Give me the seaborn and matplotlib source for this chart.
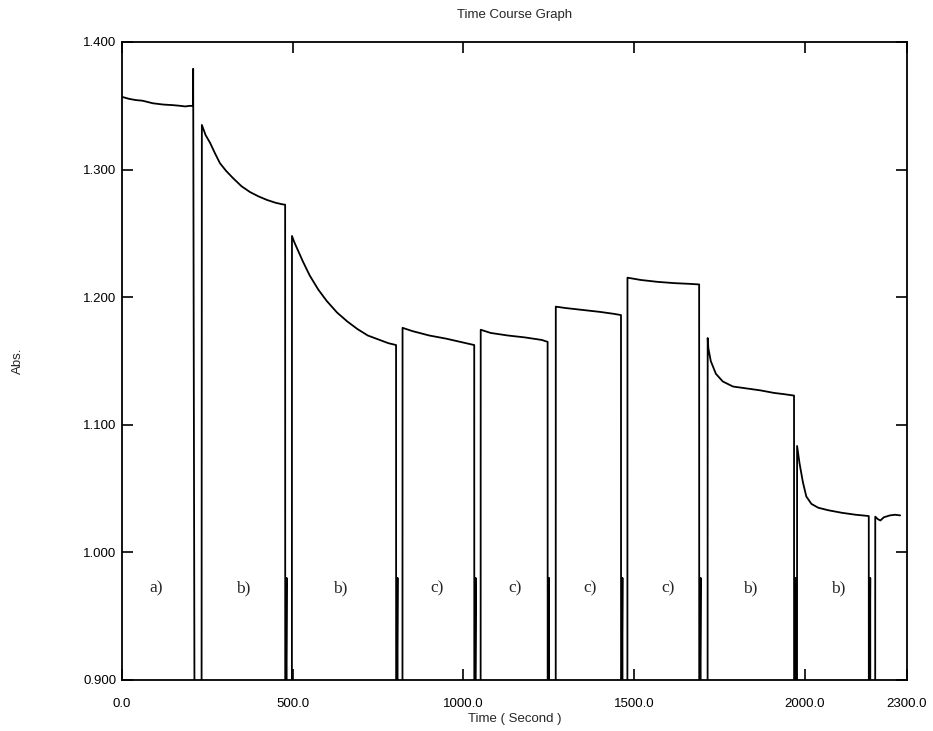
import numpy as np
import pandas as pd
import matplotlib
matplotlib.use("Agg")
import matplotlib.pyplot as plt
import seaborn as sns

# time course readings (s, Abs.), 0.80 = off-scale low while cuvette swapped
seg_a_t = [0, 20, 40, 60, 90, 120, 150, 170, 185, 200, 208]
seg_a_v = [1.357, 1.3555, 1.3545, 1.354, 1.352, 1.351, 1.3505, 1.350, 1.3495, 1.350, 1.3498]

seg_b1_t = [234, 245, 258, 272, 287, 305, 325, 350, 375, 400, 425, 450, 470, 478]
seg_b1_v = [1.335, 1.327, 1.321, 1.313, 1.305, 1.299, 1.2934, 1.287, 1.2824, 1.279, 1.2762, 1.274, 1.2728, 1.2725]

seg_b2_t = [498, 505, 515, 530, 550, 575, 600, 630, 660, 690, 720, 750, 780, 803]
seg_b2_v = [1.248, 1.243, 1.237, 1.228, 1.217, 1.206, 1.197, 1.188, 1.181, 1.175, 1.170, 1.167, 1.164, 1.1625]

seg_c1_t = [822, 850, 900, 950, 1000, 1032]
seg_c1_v = [1.176, 1.1735, 1.170, 1.1675, 1.1645, 1.1625]

seg_c2_t = [1051, 1080, 1130, 1180, 1230, 1247]
seg_c2_v = [1.1745, 1.172, 1.170, 1.1685, 1.1665, 1.165]

seg_c3_t = [1271, 1300, 1350, 1400, 1440, 1462]
seg_c3_v = [1.1926, 1.1915, 1.190, 1.1885, 1.187, 1.186]

seg_c4_t = [1481, 1520, 1570, 1620, 1660, 1691]
seg_c4_v = [1.2153, 1.2135, 1.212, 1.211, 1.2105, 1.210]

seg_b3_t = [1716, 1718, 1725, 1740, 1760, 1790, 1830, 1870, 1910, 1940, 1969]
seg_b3_v = [1.168, 1.160, 1.150, 1.140, 1.134, 1.130, 1.1285, 1.127, 1.125, 1.124, 1.1229]

seg_b4_t = [1978, 1985, 1995, 2005, 2020, 2040, 2070, 2110, 2150, 2188]
seg_b4_v = [1.0834, 1.070, 1.055, 1.0438, 1.038, 1.035, 1.033, 1.031, 1.0295, 1.0285]

seg_end_t = [2207, 2215, 2222, 2232, 2250, 2265, 2280]
seg_end_v = [1.028, 1.026, 1.025, 1.0275, 1.029, 1.0295, 1.029]

# gaps between segments: (t, value) points for the cuvette changes
gap1_t = [208.5, 213, 233]
gap1_v = [1.379, 0.80, 0.80]
gap_low = 0.80
gap_mid = 0.98

labels = ["a)", "b)", "b)", "c)", "c)", "c)", "c)", "b)", "b)"]
label_t = [100, 354, 639, 923, 1151, 1371, 1600, 1840, 2098]
label_y = 0.972

# %% stitch the trace together
segs = [(seg_a_t, seg_a_v), (seg_b1_t, seg_b1_v), (seg_b2_t, seg_b2_v), (seg_c1_t, seg_c1_v),
        (seg_c2_t, seg_c2_v), (seg_c3_t, seg_c3_v), (seg_c4_t, seg_c4_v), (seg_b3_t, seg_b3_v),
        (seg_b4_t, seg_b4_v), (seg_end_t, seg_end_v)]

t_all, v_all = [], []
for i, (ts, vs) in enumerate(segs):
    if i == 1:
        t_all += gap1_t
        v_all += gap1_v
    elif i > 1:
        t0 = t_all[-1]
        t_all += [t0 + 0.3, t0 + 4, t0 + 4.3, t0 + 4.6]
        v_all += [gap_low, gap_mid, gap_mid, gap_low]
        t_all += [ts[0] - 0.3]
        v_all += [gap_low]
    t_all += ts
    v_all += vs

df = pd.DataFrame({"Time": t_all, "Abs": v_all})

# %%
sns.set_style("ticks")
plt.rcParams['font.family'] = ['Liberation Sans', 'DejaVu Sans']

fig = plt.figure(figsize=(9.33, 7.31), dpi=100)
ax = fig.add_axes([122 / 933, 51 / 731, 785 / 933, 638 / 731])

sns.lineplot(data=df, x="Time", y="Abs", color="black", linewidth=1.3,
             estimator=None, sort=False, ax=ax)

for lab, lt in zip(labels, label_t):
    ax.text(lt, label_y, lab, ha="center", va="center", fontsize=12.5,
            family="Liberation Serif")

ax.set_xlim(0, 2300)
ax.set_ylim(0.9, 1.4)
ax.set_xticks([0, 500, 1000, 1500, 2000, 2300])
ax.set_xticklabels(["0.0", "500.0", "1000.0", "1500.0", "2000.0", "2300.0"])
ax.set_yticks([0.9, 1.0, 1.1, 1.2, 1.3, 1.4])
ax.set_yticklabels(["0.900", "1.000", "1.100", "1.200", "1.300", "1.400"])
ax.tick_params(direction="in", length=8, width=1.2, top=True, right=True,
               labelsize=9.5, colors="black")
ax.tick_params(axis="x", pad=13)
ax.tick_params(axis="y", pad=4)
for s in ax.spines.values():
    s.set_linewidth(1.3)
    s.set_color("black")

ax.set_title("Time Course Graph", fontsize=9.5, pad=17)
ax.set_xlabel("Time ( Second )", fontsize=9.5, labelpad=2)
ax.set_ylabel("Abs.", fontsize=9.5)
ax.yaxis.set_label_coords(-0.125, 0.5)

fig.savefig("out.png", dpi=100)
